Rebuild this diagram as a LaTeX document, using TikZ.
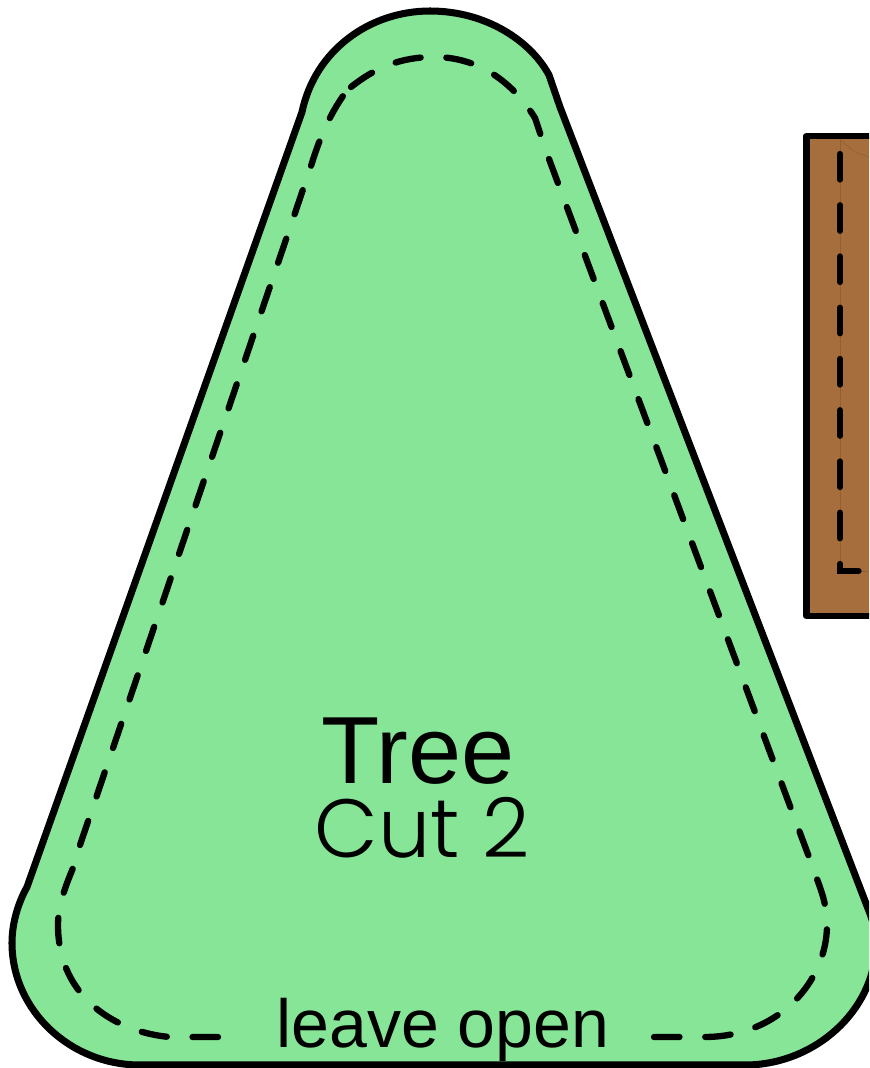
\documentclass[tikz,border=0pt]{standalone}
\usepackage{fontspec}
\setmainfont{Liberation Sans}
\newfontfamily\cutfont{Poppins Light}
\definecolor{treegreen}{RGB}{135, 229, 152}
\definecolor{trunkbrown}{RGB}{166, 110, 60}
\definecolor{trunkline}{RGB}{150, 95, 50}

\begin{document}
\begin{tikzpicture}[
    x=0.02cm, y=-0.02cm,
    piece/.style={draw=black, line width=4pt, line join=round},
    seam/.style={draw=black, line width=3.6pt, line cap=round, dash pattern=on 14.5pt off 14.67pt},
    title/.style={anchor=base, inner sep=0pt, font=\fontsize{54.3}{60}\selectfont},
    cutlabel/.style={anchor=base, inner sep=0pt, font=\cutfont\fontsize{47}{50}\selectfont},
    open/.style={anchor=base, inner sep=0pt, font=\fontsize{38.7}{44}\selectfont}
]
\useasboundingbox (0,0) rectangle (869,1068);
\clip (0,0) rectangle (869,1068);

% Trunk
\draw[piece, line width=3.7pt, fill=trunkbrown] (900,136) -- (806.5,136) -- (806.5,616) -- (900,616);
\draw[trunkline, line width=0.4pt] (840,139) -- (840,571) -- (869,571);
\draw[trunkline, line width=0.4pt] (840,140) -- (855,152) -- (869,157);
\draw[seam] (840,154) -- (840,571) -- (900,571);

% Tree
\draw[piece, fill=treegreen] (302,112) -- (27,887)
    .. controls (17,905) and (12,925) .. (12,943)
    .. controls (12,1010) and (70,1065) .. (140,1065) -- (745,1065)
    .. controls (815,1065) and (876,1010) .. (876,943)
    .. controls (876,930) and (872,918) .. (867,906) -- (560,107) -- (549,75)
    .. controls (530,40) and (485,11) .. (430,11)
    .. controls (370,11) and (315,50) .. (302,112) -- cycle;

% Seam, bottom left
\draw[seam] (218,1037) -- (170,1037)
    .. controls (120,1033) and (58,1000) .. (58,925)
    .. controls (58,905) and (66,885) .. (73,868);
% Seam, left side
\draw[seam] (80,845) -- (311,166) .. controls (316,150) and (325,122) .. (343,96);
% Seam, top
\draw[seam] (351,87) .. controls (375,68) and (400,57) .. (434,57)
    .. controls (475,57) and (510,78) .. (535,118) -- (541,136);
% Seam, right side
\draw[seam] (549,159) -- (809,857);
% Seam, bottom right
\draw[seam] (654,1037) -- (704,1037)
    .. controls (780,1037) and (827,980) .. (827,925)
    .. controls (827,905) and (821,890) .. (817,879);

% Labels
\node[title] (treename) at (418,783) {Tree};
\node[cutlabel] (treecut) at (422,857) {Cut 2};
\node[open] (treeopen) at (443,1047) {leave open};
\end{tikzpicture}
\end{document}
